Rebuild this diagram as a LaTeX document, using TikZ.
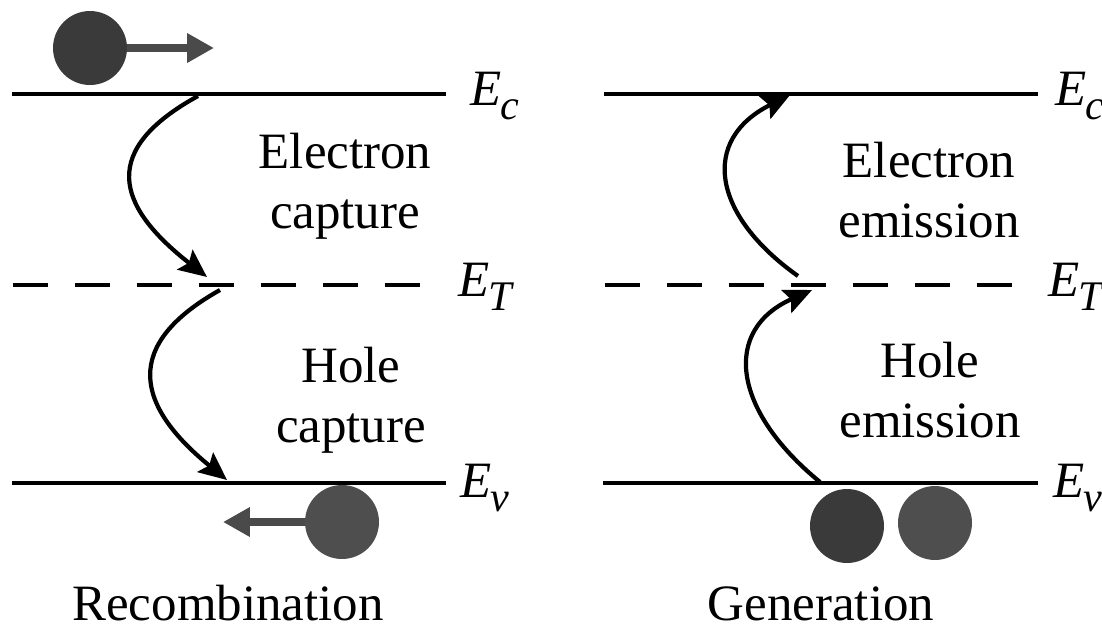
\documentclass[tikz,border=0pt]{standalone}
\usepackage{fontspec}
\setmainfont{Liberation Serif}
\usetikzlibrary{arrows.meta}
\definecolor{elecfill}{HTML}{3A3A3A}
\definecolor{holefill}{HTML}{4E4E4E}
\definecolor{pushgray}{HTML}{4A4A4A}
% energy level label E with subscript
\newcommand{\lvl}[1]{\textit{E}\kern-0.5pt\raisebox{-8pt}{\fontsize{24}{24}\selectfont\textit{#1}}}

\begin{document}
\begin{tikzpicture}[
x=0.02cm, y=-0.02cm, % pixel units
every node/.style={font=\fontsize{29}{34}\selectfont, inner sep=0pt},
level/.style={line width=2.8pt},
trap/.style={line width=2.8pt, dash pattern=on 0.7cm off 0.54cm},
jump/.style={line width=2.4pt, -{Stealth[length=0.56cm, width=0.5cm, inset=0.1cm]}},
carrier/.style={circle, fill=#1, minimum size=1.48cm},
push/.style={line width=5pt, draw=pushgray, -{Triangle[length=0.54cm, width=0.56cm]}}
]
\useasboundingbox (0,0) rectangle (1102,630);

% --- Recombination ---
\coordinate (lcA) at (12,94);   \coordinate (lcB) at (446,94);
\coordinate (ltA) at (13,285);  \coordinate (ltB) at (446,285);
\coordinate (lvA) at (12,483);  \coordinate (lvB) at (446,483);
\draw[level] (lcA) -- (lcB);
\draw[trap] (ltA) -- (ltB);
\draw[level] (lvA) -- (lvB);

\node[anchor=base west] (lEc) at (470,105) {\lvl{c}};
\node[anchor=base west] (lEt) at (458,296) {\lvl{T}};
\node[anchor=base west] (lEv) at (460,497) {\lvl{v}};

% electron and hole
\node[carrier=elecfill] (elec) at (90,48) {};
\coordinate (elecTip) at (214,48);
\draw[push] (elec) -- (elecTip);
\node[carrier=holefill] (hole) at (342,522) {};
\coordinate (holeTip) at (223,522);
\draw[push] (hole) -- (holeTip);

% capture transitions
\coordinate (capA) at (198,96);  \coordinate (capB) at (207,277);
\coordinate (capC) at (220,290); \coordinate (capD) at (227,480);
\draw[jump] (capA) .. controls (100,150) and (115,205) .. (capB);
\draw[jump] (capC) .. controls (122,345) and (135,405) .. (capD);

\node[anchor=base, align=center] (ecap) at (345,228) {Electron\\capture};
\node[anchor=base, align=center] (hcap) at (351,442) {Hole\\capture};
\node[anchor=base, text depth=0pt] (recomb) at (228,620) {Recombination};

% --- Generation ---
\coordinate (rcA) at (604,94);   \coordinate (rcB) at (1038,94);
\coordinate (rtA) at (605,285);  \coordinate (rtB) at (1038,285);
\coordinate (rvA) at (603,483);  \coordinate (rvB) at (1038,483);
\draw[level] (rcA) -- (rcB);
\draw[trap] (rtA) -- (rtB);
\draw[level] (rvA) -- (rvB);

\node[anchor=base west] (rEc) at (1055,105) {\lvl{c}};
\node[anchor=base west] (rEt) at (1048,296) {\lvl{T}};
\node[anchor=base west] (rEv) at (1053,497) {\lvl{v}};

\node[carrier=elecfill] (genE) at (847,526) {};
\node[carrier=holefill] (genH) at (935,523) {};

% emission transitions
\coordinate (emA) at (798,276); \coordinate (emB) at (790,95);
\coordinate (emC) at (820,482); \coordinate (emD) at (812,290);
\draw[jump] (emA) .. controls (712,215) and (700,140) .. (emB);
\draw[jump] (emC) .. controls (732,410) and (722,330) .. (emD);

\node[anchor=base, align=center] (eemi) at (929,237) {Electron\\emission};
\node[anchor=base, align=center] (hemi) at (930,437) {Hole\\emission};
\node[anchor=base, text depth=0pt] (gen) at (821,620) {Generation};

\end{tikzpicture}
\end{document}
